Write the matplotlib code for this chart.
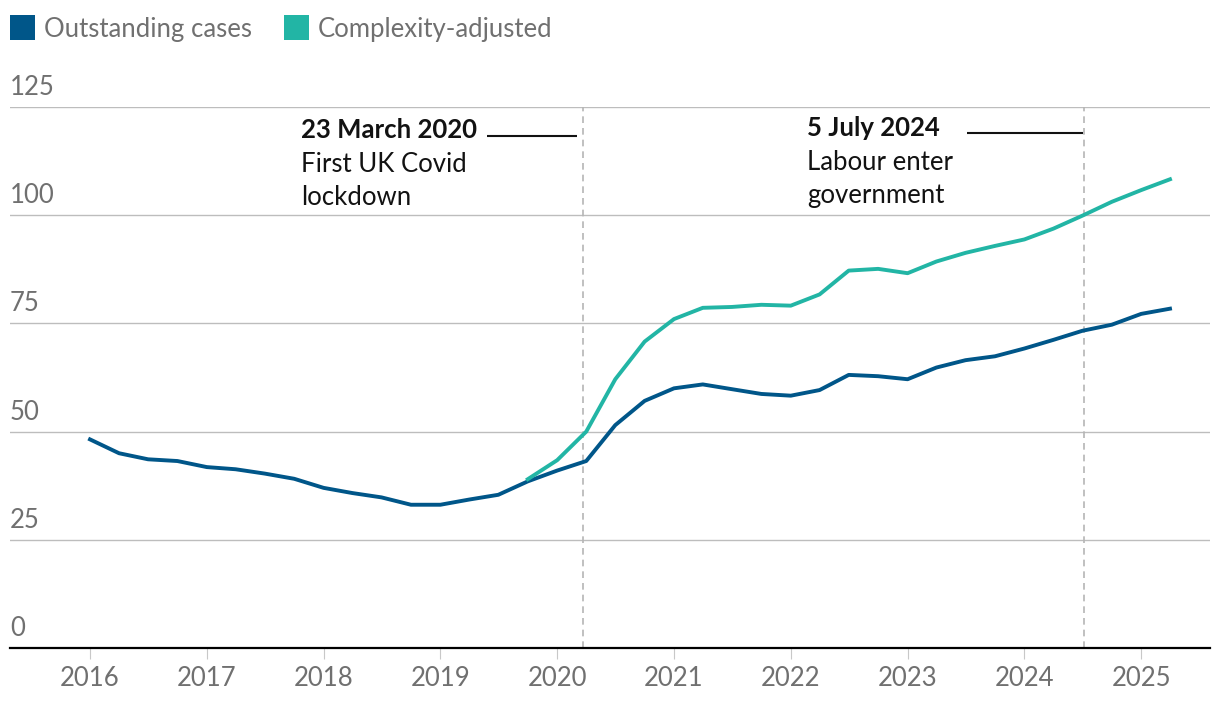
import matplotlib
matplotlib.use("Agg")
import matplotlib.pyplot as plt
import matplotlib.transforms as mtransforms
from matplotlib.patches import Rectangle
import numpy as np
import pandas as pd

plt.rcParams['font.family'] = ['Lato', 'DejaVu Sans']

# ---- data ----
quarters = pd.period_range('2016Q1', '2025Q2', freq='Q')
outstanding = [48.2, 45.0, 43.6, 43.2, 41.8, 41.3, 40.3, 39.1, 37.0, 35.8,
               34.8, 33.1, 33.1, 34.3, 35.4, 38.5, 41.0, 43.2, 51.5, 57.1,
               60.0, 60.9, 59.8, 58.7, 58.3, 59.6, 63.1, 62.8, 62.1, 64.8,
               66.5, 67.4, 69.2, 71.2, 73.3, 74.7, 77.2, 78.4]
complexity = [None] * 15 + [39.0, 43.4, 50.0, 62.1, 70.8,
              76.0, 78.6, 78.8, 79.3, 79.1, 81.7, 87.2, 87.6, 86.6, 89.3,
              91.3, 92.9, 94.4, 96.9, 99.9, 103.1, 105.8, 108.3]
series_names = ['Outstanding cases', 'Complexity-adjusted']
y_ticks = [0, 25, 50, 75, 100, 125]
x_ticks = list(range(2016, 2026))
events = [pd.Timestamp('2020-03-23'), pd.Timestamp('2024-07-05')]
event_titles = ['23 March 2020', '5 July 2024']
event_texts = ['First UK Covid\nlockdown', 'Labour enter\ngovernment']

BLUE = '#005689'
TEAL = '#22b5a5'
GREY = '#707070'
GRID = '#bdbdbd'
INK = '#121212'
FS = 18.5

def dec_year(ts):
    start = pd.Timestamp(year=ts.year, month=1, day=1)
    end = pd.Timestamp(year=ts.year + 1, month=1, day=1)
    return ts.year + (ts - start) / (end - start)

x = np.array([dec_year(q.start_time) for q in quarters])
y1 = np.array(outstanding, dtype=float)
y2 = np.array([np.nan if v is None else v for v in complexity], dtype=float)

W, H = 1220, 706
fig = plt.figure(figsize=(W / 100, H / 100), dpi=100)
ax = fig.add_axes([10 / W, (H - 648) / H, 1200 / W, (648 - 107) / H])
px_per_year = 116.8
ax.set_xlim(2016 - 80 / px_per_year, 2016 + 1120 / px_per_year)
ax.set_ylim(0, 125)

for s in ['top', 'right', 'left']:
    ax.spines[s].set_visible(False)
ax.spines['bottom'].set_color('#000000')
ax.spines['bottom'].set_linewidth(1.6)
ax.spines['bottom'].set_zorder(5)

ax.set_yticks(y_ticks)
ax.set_yticklabels([])
ax.tick_params(axis='y', length=0)
for t in y_ticks[1:]:
    ax.axhline(t, color=GRID, lw=1.0, zorder=1)

ax.set_xticks(x_ticks)
ax.set_xticklabels([str(v) for v in x_ticks], fontsize=FS, color=GREY)
ax.tick_params(axis='x', length=8, width=0.8, color='#c8c8c8', pad=5)

# y labels above gridlines
ytrans = mtransforms.blended_transform_factory(ax.transAxes, ax.transData)
for t in y_ticks:
    ax.annotate(str(t), xy=(0, t), xycoords=ytrans, xytext=(0, 7),
                textcoords='offset pixels', ha='left', va='bottom',
                fontsize=FS, color=GREY)

# event lines
px_per_unit = (648 - 107) / 125
line_specs = [(96, 6, 135.5, 138, 282), (117, 1, 133.3, 136, 277)]
for ev, title, txt, spec in zip(events, event_titles, event_texts, line_specs):
    ex = dec_year(ev)
    ax.plot([ex, ex], [0, 125], color='#b5b5b5', lw=1.2, ls=(0, (4, 3)), zorder=2)
    l0, l1, ly, by, toff = spec
    yv = (648 - ly) / px_per_unit
    ax.plot([ex - l0 / px_per_year, ex - l1 / px_per_year], [yv, yv],
            color=INK, lw=1.5, zorder=3, solid_capstyle='butt')
    tx = ex - toff / px_per_year
    ax.text(tx, (648 - by) / px_per_unit, title, fontsize=FS, fontweight='bold',
            color=INK, ha='left', va='baseline')
    lines = txt.split('\n')
    for i, ln in enumerate(lines):
        ax.text(tx, (648 - (by + 34 + 33 * i)) / px_per_unit, ln, fontsize=FS,
                color=INK, ha='left', va='baseline')

ax.plot(x, y1, color=BLUE, lw=2.8, zorder=4, solid_joinstyle='round')
ax.plot(x, y2, color=TEAL, lw=2.8, zorder=4, solid_joinstyle='round')

# legend
leg_items = [(10, 44, BLUE, series_names[0]), (284, 318, TEAL, series_names[1])]
for sx, tx, col, name in leg_items:
    fig.add_artist(Rectangle((sx / W, (H - 40) / H), 25 / W, 25 / H,
                             transform=fig.transFigure, color=col, lw=0))
    fig.text(tx / W, (H - 30) / H, name, fontsize=FS, color=GREY,
             ha='left', va='center')

fig.savefig('out.png', dpi=100)
